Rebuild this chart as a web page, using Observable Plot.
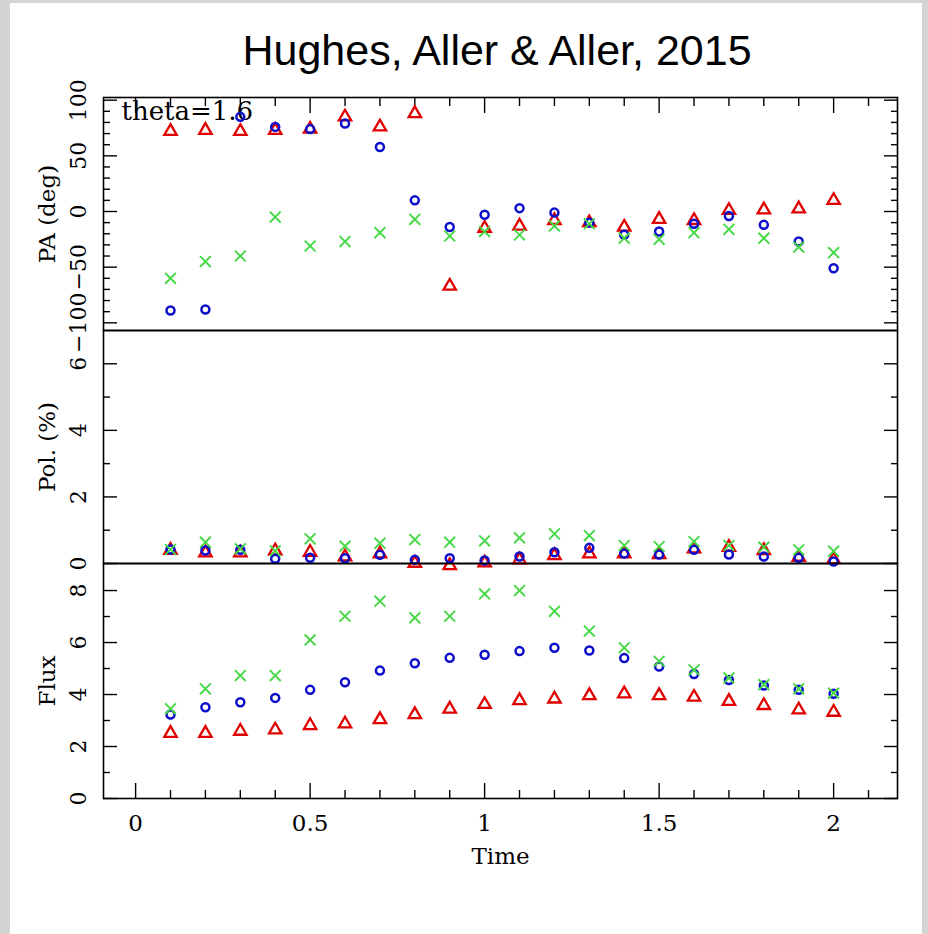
<!DOCTYPE html>
<html>
<head>
<meta charset="utf-8">
<script src="https://cdn.jsdelivr.net/npm/d3@7"></script>
<script src="https://cdn.jsdelivr.net/npm/@observablehq/plot@0.6"></script>
<style>
  body { margin: 0; background: #fff; }
  #wrap { position: relative; width: 928px; height: 934px; overflow: hidden; background: #fff; }
  .strip { position: absolute; background: #d4d4d4; }
  #title { position: absolute; left: 97px; width: 800px; top: 29px; text-align: center;
           font-family: "Liberation Sans", Arial, sans-serif; font-size: 43px; line-height: 1; color: #000; }
  #wrap svg { position: absolute; left: 0; }
</style>
</head>
<body>
<div id="wrap">
  <div class="strip" style="left:0;top:0;width:10px;height:934px"></div>
  <div class="strip" style="left:0;top:0;width:928px;height:3px"></div>
  <div class="strip" style="right:0;top:0;width:6px;height:934px"></div>
  <div id="title">Hughes, Aller &amp; Aller, 2015</div>
</div>
<script>
// ---- data ----
const time = [0.1, 0.2, 0.3, 0.4, 0.5, 0.6, 0.7, 0.8, 0.9, 1.0, 1.1, 1.2, 1.3, 1.4, 1.5, 1.6, 1.7, 1.8, 1.9, 2.0];

const paRed   = [72, 73, 72, 73, 74, 85, 76, 88, -67, -15, -13, -8, -10, -14, -7, -8, 1, 1.5, 2.4, 10];
const paBlue  = [-89, -88, 85, 76, 74, 79, 58, 10, -14, -3, 3, -1, -10, -21, -18, -11, -4, -12, -27, -51];
const paGreen = [-60, -45, -40, -5, -31, -27, -19, -7, -22, -18, -21, -13, -11, -24, -25, -19, -16, -24, -32, -37];

const polRed   = [0.40, 0.32, 0.32, 0.38, 0.34, 0.20, 0.29, 0.01, -0.06, 0.02, 0.11, 0.24, 0.29, 0.29, 0.27, 0.44, 0.49, 0.39, 0.19, 0.12];
const polBlue  = [0.42, 0.39, 0.41, 0.14, 0.17, 0.16, 0.26, 0.11, 0.16, 0.09, 0.21, 0.34, 0.47, 0.30, 0.27, 0.41, 0.27, 0.21, 0.17, 0.06];
const polGreen = [0.42, 0.64, 0.44, 0.38, 0.74, 0.52, 0.61, 0.72, 0.64, 0.68, 0.77, 0.89, 0.84, 0.54, 0.51, 0.66, 0.54, 0.49, 0.41, 0.37];

const fluxRed   = [2.51, 2.51, 2.59, 2.64, 2.81, 2.87, 3.04, 3.23, 3.44, 3.62, 3.77, 3.83, 3.96, 4.03, 3.96, 3.90, 3.74, 3.58, 3.41, 3.32];
const fluxBlue  = [3.23, 3.51, 3.70, 3.87, 4.18, 4.47, 4.92, 5.20, 5.41, 5.53, 5.67, 5.80, 5.69, 5.40, 5.08, 4.79, 4.56, 4.35, 4.18, 4.03];
const fluxGreen = [3.45, 4.22, 4.73, 4.73, 6.10, 7.01, 7.59, 6.95, 7.01, 7.87, 8.00, 7.20, 6.44, 5.80, 5.28, 4.95, 4.64, 4.38, 4.22, 4.05];

const xMajor = [0, 0.5, 1, 1.5, 2];
const xMinor = [0.1, 0.2, 0.3, 0.4, 0.6, 0.7, 0.8, 0.9, 1.1, 1.2, 1.3, 1.4, 1.6, 1.7, 1.8, 1.9, 2.1];
const xLabels = ["0", "0.5", "1", "1.5", "2"];

const paMajor = [-100, -50, 0, 50, 100];
const paMinor = [-90, -80, -70, -60, -40, -30, -20, -10, 10, 20, 30, 40, 60, 70, 80, 90];
const paLabels = ["\u2212100", "\u221250", "0", "50", "100"];

const polMajor = [0, 2, 4, 6];
const polMinor = [1, 3, 5];
const polLabels = ["0", "2", "4", "6"];

const fluxMajor = [0, 2, 4, 6, 8];
const fluxMinor = [1, 3, 5, 7];
const fluxLabels = ["0", "2", "4", "6", "8"];

const xDomain = [-0.092, 2.183];
const serif = "DejaVu Serif";
const RED = "#e00000", BLUE = "#0d0dcc", GREEN = "#44d844";

const rows = arr => time.map((t, i) => ({t, v: arr[i]}));

function seriesMarks(r, b, g) {
  return [
    Plot.dot(rows(r), {x: "t", y: "v", symbol: "triangle", r: 4.6, stroke: RED, strokeWidth: 2.3, fill: "none"}),
    Plot.dot(rows(b), {x: "t", y: "v", symbol: "circle", r: 4, stroke: BLUE, strokeWidth: 2.5, fill: "none"}),
    Plot.dot(rows(g), {x: "t", y: "v", symbol: "times", r: 5, stroke: GREEN, strokeWidth: 1.9})
  ];
}

function yTickMarks(major, minor, labels, title) {
  const none = () => "";
  return [
    Plot.axisY({anchor: "left", ticks: major, tickSize: -14, tickFormat: none, label: null, strokeWidth: 1.4}),
    Plot.axisY({anchor: "left", ticks: minor, tickSize: -7, tickFormat: none, label: null, strokeWidth: 1.4}),
    Plot.axisY({anchor: "right", ticks: major, tickSize: -14, tickFormat: none, label: null, strokeWidth: 1.4}),
    Plot.axisY({anchor: "right", ticks: minor, tickSize: -7, tickFormat: none, label: null, strokeWidth: 1.4}),
    Plot.text(major, {y: d => d, text: (d, i) => labels[i], frameAnchor: "left", dx: -25, rotate: -90,
      textAnchor: "middle", lineAnchor: "middle", fontSize: 22, fontFamily: serif, fill: "black"}),
    Plot.text([title], {frameAnchor: "left", dx: -56, rotate: -90, textAnchor: "middle", lineAnchor: "middle",
      fontSize: 23, fontFamily: serif, fill: "black"})
  ];
}

const wrap = document.getElementById("wrap");
function place(svg, top) {
  svg.style.top = top + "px";
  wrap.appendChild(svg);
}

// ---- PA panel ----
{
  const mt = 20, mb = 10, frameH = 233;
  const svg = Plot.plot({
    width: 928, height: mt + frameH + mb,
    marginLeft: 103, marginRight: 31, marginTop: mt, marginBottom: mb,
    style: {background: "transparent", overflow: "visible", fontFamily: serif},
    x: {domain: xDomain},
    y: {domain: [-106.9, 102.4]},
    marks: [
      Plot.frame({stroke: "black", strokeWidth: 1.6}),
      Plot.axisX({anchor: "top", ticks: xMajor, tickSize: -15, tickFormat: () => "", label: null, strokeWidth: 1.4}),
      Plot.axisX({anchor: "top", ticks: xMinor, tickSize: -8, tickFormat: () => "", label: null, strokeWidth: 1.4}),
      ...yTickMarks(paMajor, paMinor, paLabels, "PA (deg)"),
      Plot.text(["theta=1.6"], {frameAnchor: "top-left", dx: 18, dy: 4, textAnchor: "start", lineAnchor: "top",
        fontSize: 26, fontFamily: serif, fill: "black", letterSpacing: 0.5}),
      ...seriesMarks(paRed, paBlue, paGreen)
    ]
  });
  place(svg, 97 - mt);
}

// ---- Pol panel ----
{
  const mt = 10, mb = 10, frameH = 233;
  const svg = Plot.plot({
    width: 928, height: mt + frameH + mb,
    marginLeft: 103, marginRight: 31, marginTop: mt, marginBottom: mb,
    style: {background: "transparent", overflow: "visible", fontFamily: serif},
    x: {domain: xDomain, axis: null},
    y: {domain: [0, 7]},
    marks: [
      Plot.frame({stroke: "black", strokeWidth: 1.6}),
      ...yTickMarks(polMajor, polMinor, polLabels, "Pol. (%)"),
      ...seriesMarks(polRed, polBlue, polGreen)
    ]
  });
  place(svg, 330 - mt);
}

// ---- Flux panel ----
{
  const mt = 10, mb = 80, frameH = 235;
  const svg = Plot.plot({
    width: 928, height: mt + frameH + mb,
    marginLeft: 103, marginRight: 31, marginTop: mt, marginBottom: mb,
    style: {background: "transparent", overflow: "visible", fontFamily: serif},
    x: {domain: xDomain},
    y: {domain: [0, 9.04]},
    marks: [
      Plot.frame({stroke: "black", strokeWidth: 1.6}),
      Plot.axisX({anchor: "bottom", ticks: xMajor, tickSize: -15, tickFormat: () => "", label: null, strokeWidth: 1.4}),
      Plot.axisX({anchor: "bottom", ticks: xMinor, tickSize: -8, tickFormat: () => "", label: null, strokeWidth: 1.4}),
      Plot.text(xMajor, {x: d => d, text: (d, i) => xLabels[i], frameAnchor: "bottom", dy: 25, lineAnchor: "middle",
        fontSize: 23, fontFamily: serif, fill: "black"}),
      Plot.text(["Time"], {frameAnchor: "bottom", dy: 58, lineAnchor: "middle", fontSize: 23, fontFamily: serif, fill: "black"}),
      ...yTickMarks(fluxMajor, fluxMinor, fluxLabels, "Flux"),
      ...seriesMarks(fluxRed, fluxBlue, fluxGreen)
    ]
  });
  place(svg, 563 - mt);
}
</script>
</body>
</html>
